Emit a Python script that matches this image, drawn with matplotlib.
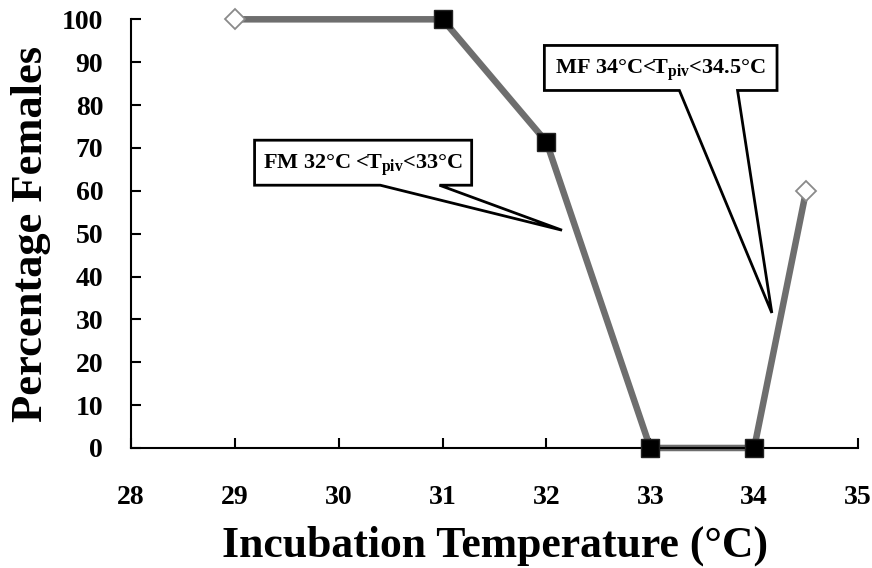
import numpy as np
import matplotlib.pyplot as plt
from matplotlib.patches import Polygon

plt.rcParams['font.family'] = 'Liberation Serif'
plt.rcParams['font.weight'] = 'bold'
plt.rcParams['mathtext.fontset'] = 'custom'
plt.rcParams['mathtext.rm'] = 'Liberation Serif:bold'
plt.rcParams['mathtext.it'] = 'Liberation Serif:bold'

# incubation temperature (C) and percentage of females
temps = [29, 31, 32, 33, 34, 34.5]
females = [100, 100, 71.4, 0, 0, 60]
# True = filled square marker, False = open diamond marker
filled = [False, True, True, True, True, False]

xticks = [28, 29, 30, 31, 32, 33, 34, 35]
yticks = [0, 10, 20, 30, 40, 50, 60, 70, 80, 90, 100]

fm_label = r'FM 32°C <T$_{\mathrm{piv}}$<33°C'
mf_label = r'MF 34°C<T$_{\mathrm{piv}}$<34.5°C'

fig = plt.figure(figsize=(8.72, 5.68), dpi=100)
ax = fig.add_axes([0.1502, 0.2113, 0.8338, 0.7547])

ax.plot(temps, females, color='#6e6e6e', lw=4.7, zorder=2, clip_on=False)
t = np.array(temps)
f = np.array(females)
m = np.array(filled)
ax.plot(t[m], f[m], ls='none', marker='s', ms=12.5, mfc='black', mec='#222222',
        zorder=3, clip_on=False)
ax.plot(t[~m], f[~m], ls='none', marker='D', ms=10.5, mfc='white', mec='#8a8a8a',
        mew=1.3, zorder=3, clip_on=False)

ax.set_xlim(28, 35)
ax.set_ylim(0, 100)
ax.set_xticks(xticks)
ax.set_yticks(yticks)
ax.spines['top'].set_visible(False)
ax.spines['right'].set_visible(False)
for s in ['left', 'bottom']:
    ax.spines[s].set_linewidth(1.5)
ax.tick_params(direction='in', length=7, width=1.5, labelsize=20)
ax.tick_params(axis='y', pad=20)
ax.tick_params(axis='x', pad=27)
ax.set_xlabel('Incubation Temperature (°C)', fontsize=31.5, fontweight='bold', labelpad=11)
ax.set_ylabel('Percentage Females', fontsize=32, fontweight='bold', labelpad=8)


def callout(x0, x1, y0, y1, b0, b1, tip, text):
    pts = [(x0, y0), (x0, y1), (x1, y1), (x1, y0), (b1, y0), tip, (b0, y0)]
    poly = Polygon(pts, closed=True, fc='white', ec='black', lw=2, zorder=5)
    ax.add_patch(poly)
    ax.text((x0 + x1) / 2, (y0 + y1) / 2 - 0.6, text, ha='center', va='center',
            fontsize=16, fontweight='bold', zorder=6)


callout(29.19, 31.28, 61.3, 71.8, 30.40, 30.97, (32.15, 50.8), fm_label)
callout(31.98, 34.22, 83.4, 93.9, 33.28, 33.84, (34.17, 31.5), mf_label)

fig.savefig('out.png', dpi=100)
